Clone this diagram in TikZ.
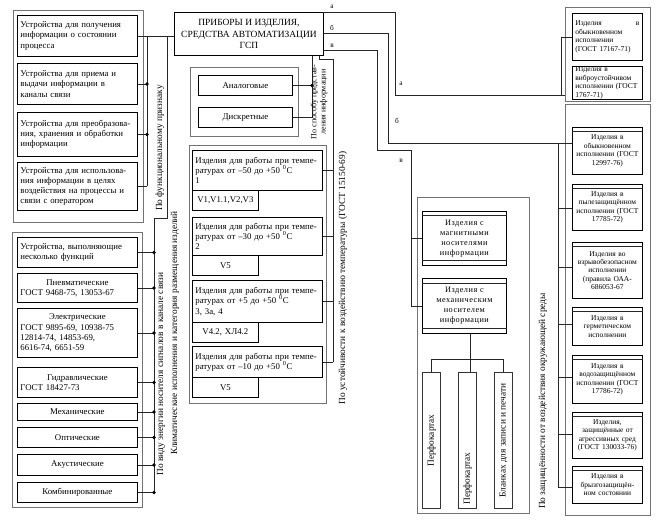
\documentclass[tikz,border=0pt]{standalone}
\usepackage{fontspec}
\setmainfont{Liberation Serif}
\usetikzlibrary{calc}
\newcommand\mkbox[7]{%
 \pgfmathsetmacro\bw{(#4-#2)*0.75}%
 \pgfmathsetmacro\bh{(#5-#3)*0.75}%
 \pgfmathsetmacro\tw{max((#4-#2-6)*0.75,1)}%
 \node[#6, minimum width=\bw pt, minimum height=\bh pt, text width=\tw pt, anchor=north west] (#1) at (#2,#3) {#7};}
\newcommand\ctr[1]{\makebox[\linewidth][c]{#1}}
\begin{document}
\begin{tikzpicture}[x=0.75pt,y=-0.75pt,
  ibox/.style={draw=black, line width=0.6pt, inner xsep=1.5pt, inner ysep=0.5pt,
    font=\fontsize{6.6}{7.6}\selectfont, align=left},
  cbox/.style={ibox, align=center},
  rbox/.style={draw=black, line width=0.6pt, inner xsep=1pt, inner ysep=0.5pt,
    font=\fontsize{5.6}{6.3}\selectfont, align=center},
  mbox/.style={rbox, font=\fontsize{6.2}{7.4}\selectfont\addfontfeatures{LetterSpace=6}},
  obox/.style={draw=black!55, line width=1.1pt, inner sep=0pt},
  pbox/.style={draw=black!80, line width=0.8pt, inner sep=0pt},
  mainbox/.style={draw=black, line width=0.7pt, align=center, inner xsep=0pt, inner ysep=1pt,
    font=\fontsize{7.1}{8.6}\selectfont},
  conn/.style={draw=black!85, line width=0.6pt},
  dot/.style={fill=black},
  rlab/.style={rotate=90, font=\fontsize{7}{8}\selectfont, inner sep=0pt},
  llab/.style={font=\fontsize{5.5}{6}\selectfont, inner sep=0pt}]
\useasboundingbox (0,0) rectangle (662,522);

% main box
\node[mainbox, minimum width=111.75pt, minimum height=32.25pt, anchor=north west] (main) at (174,12)
  {ПРИБОРЫ И ИЗДЕЛИЯ,\\СРЕДСТВА АВТОМАТИЗАЦИИ\\ГСП};

% left upper group
\mkbox{oA}{13}{10}{143}{222}{obox}{}
\mkbox{A1}{17}{15}{137}{56}{ibox}{Устройства для получения\\информации о состоянии\\процесса}
\mkbox{A2}{17}{63}{137}{104}{ibox}{Устройства для приема и\\выдачи информации в\\каналы связи}
\mkbox{A3}{17}{112}{137}{156}{ibox}{Устройства для преобразова-\\ния, хранения и обработки\\информации}
\mkbox{A4}{17}{162}{137}{210}{ibox}{Устройства для использова-\\ния информации в целях\\воздействия на процессы и\\связи с оператором}

\coordinate (jA) at (147,0);
\coordinate (jB) at (167,0);
\coordinate (jC) at (154,0);
\draw[conn] (A1.east) -- (A1.east -| main.west);
\draw[conn] (A1.east -| jA) -- (A4.east -| jA);
\foreach \b in {A2,A3,A4} \draw[conn] (\b.east) -- (\b.east -| jA);
\foreach \b in {A2,A3} \fill[dot] (\b.east -| jA) circle (1.4pt);
\coordinate (kB) at (167,218);
\coordinate (kC) at (154,218);
\draw[conn] (A1.east -| jB) -- (kB) -- (kC);
\node[rlab] (labF) at (160,148) {По функциональному признаку};

% left lower group
\mkbox{oB}{12}{232}{142}{507}{obox}{}
\mkbox{L1}{17}{237}{137}{267}{ibox}{Устройства, выполняющие\\несколько функций}
\mkbox{L2}{17}{273}{137}{302}{ibox}{\ctr{Пневматические}\\ГОСТ 9468-75, 13053-67}
\mkbox{L3}{17}{308}{137}{357}{ibox}{\ctr{Электрические}\\ГОСТ 9895-69, 10938-75\\12814-74, 14853-69,\\6616-74, 6651-59}
\mkbox{L4}{17}{367}{137}{397}{ibox}{\ctr{Гидравлические}\\ГОСТ 18427-73}
\mkbox{L5}{17}{403}{137}{420}{cbox}{Механические}
\mkbox{L6}{17}{427}{137}{447}{cbox}{Оптические}
\mkbox{L7}{17}{454}{137}{475}{cbox}{Акустические}
\mkbox{L8}{17}{482}{137}{502}{cbox}{Комбинированные}
\draw[conn] (kC) -- (L8.east -| jC);
\foreach \b in {L1,L2,L3,L4,L5,L6,L7,L8} {
  \draw[conn] (\b.east) -- (\b.east -| jC);
  \fill[dot] (\b.east -| jC) circle (1.4pt);}
\node[rlab] (labE) at (161,374) {По виду энергии носителя сигналов в канале связи};
\node[rlab] (labK) at (175,333) {Климатические исполнения и категория размещения изделий};

% analog / discrete
\mkbox{oD}{190}{67}{298}{136}{obox}{}
\mkbox{D1}{198}{75}{292}{95}{cbox}{Аналоговые}
\mkbox{D2}{198}{107}{292}{127}{cbox}{Дискретные}
\coordinate (jD) at (312,0);
\draw[conn] (D1.east) -- (D1.east -| jD);
\draw[conn] (D2.east) -- (D2.east -| jD) -- (main.south -| jD);
\fill[dot] (D1.east -| jD) circle (1.4pt);
\node[rlab, font=\fontsize{6}{6.8}\selectfont, align=center] (labS) at (319,102) {По способу представ-\\ления информации};

% temperature group
\mkbox{oT}{189}{145}{326}{403}{obox}{}
\mkbox{T1}{192}{150}{322}{190}{ibox}{Изделия для работы при темпе-\\ратурах от –50 до +50 \textsuperscript{0}C\\1}
\mkbox{C1}{192}{190}{258}{210}{cbox}{V1,V1.1,V2,V3}
\mkbox{T2}{192}{217}{322}{255}{ibox}{Изделия для работы при темпе-\\ратурах от –30 до +50 \textsuperscript{0}C\\2}
\mkbox{C2}{192}{255}{258}{275}{cbox}{V5}
\mkbox{T3}{192}{280}{322}{322}{ibox}{Изделия для работы при темпе-\\ратурах от +5 до +50 \textsuperscript{0}C\\3, 3а, 4}
\mkbox{C3}{192}{322}{258}{342}{cbox}{V4.2, ХЛ4.2}
\mkbox{T4}{192}{346}{322}{377}{ibox}{Изделия для работы при темпе-\\ратурах от –10 до +50 \textsuperscript{0}C}
\mkbox{C4}{192}{377}{258}{397}{cbox}{V5}
\coordinate (jT) at (333,0);
\coordinate (mT) at (319,0);
\coordinate (kT) at (333,59);
\draw[conn] (main.south -| mT) -- (mT |- kT) -- (kT) -- (T4.east -| jT);
\foreach \b in {T1,T2,T3,T4} \draw[conn] (\b.east) -- (\b.east -| jT);
\node[rlab] (labT) at (343,278) {По устойчивости к воздействию температуры (ГОСТ 15150-69)};

% information carriers
\mkbox{oM}{417}{197}{529}{513}{obox}{}
\mkbox{M1}{422}{211}{506}{265}{mbox}{Изделия с\\магнитными\\носителями\\информации}
\mkbox{M2}{422}{278}{506}{333}{mbox}{Изделия с\\механическим\\носителем\\информации}
\draw[conn] ($(M1.north west)+(0,4)$) -- ($(M1.north east)+(0,4)$);
\draw[conn] ($(M1.south west)+(0,-5)$) -- ($(M1.south east)+(0,-5)$);
\draw[conn] ($(M2.north west)+(0,5)$) -- ($(M2.north east)+(0,5)$);
\draw[conn] ($(M2.south west)+(0,-5)$) -- ($(M2.south east)+(0,-5)$);
\mkbox{P1}{422}{372}{440}{508}{pbox}{}
\mkbox{P2}{458}{372}{476}{508}{pbox}{}
\mkbox{P3}{494}{372}{512}{508}{pbox}{}
\node[rlab] at (P1.center) {Перфокартах};
\node[rlab] at ($(P2.center)+(0,38)$) {Перфокартах};
\node[rlab] at (P3.center) {Бланках для записи и печати};
\coordinate (kP) at (470,359);
\draw[conn] (M2.south -| kP) -- (P2.north -| kP);
\draw[conn] (P1.north) -- (P1.north |- kP) -- (P3.north |- kP) -- (P3.north);
\node[rlab] (labZ) at (543,401) {По защищённости от воздействия окружающей среды};

% right top
\mkbox{oR}{565}{7}{650}{101}{obox}{}
\mkbox{R1}{572}{13}{642}{60}{rbox, align=left}{Изделия\hfill в\\обыкновенном\\исполнении\\(ГОСТ 17167-71)}
\mkbox{R2}{572}{66}{642}{98}{rbox, align=left}{Изделия в\\виброустойчивом\\исполнении (ГОСТ\\1767-71)}
\coordinate (jR) at (561,0);
\draw[conn] (R1.west) -- (R1.west -| jR) -- (jR |- 0,95) -- (oR.west |- 0,95);

% right lower
\mkbox{oS}{565}{104}{650}{515}{obox}{}
\mkbox{S1}{572}{127}{642}{174}{rbox}{Изделия в\\обыкновенном\\исполнении (ГОСТ\\12997-76)}
\mkbox{S2}{572}{184}{642}{230}{rbox}{Изделия в\\пылезащищённом\\исполнении (ГОСТ\\17785-72)}
\mkbox{S3}{572}{242}{642}{298}{rbox}{Изделия во\\взрывобезопасном\\исполнении\\(правила ОАА-\\686053-67}
\mkbox{S4}{572}{307}{642}{345}{rbox}{Изделия в\\герметическом\\исполнении}
\mkbox{S5}{572}{355}{642}{403}{rbox}{Изделия в\\водозащищённом\\исполнении (ГОСТ\\17786-72)}
\mkbox{S6}{572}{412}{642}{458}{rbox}{Изделия,\\защищённые от\\агрессивных сред\\(ГОСТ 130033-76)}
\mkbox{S7}{572}{466}{642}{503}{rbox}{Изделия в\\брызгозащищён-\\ном состоянии}
\foreach \b in {S1,S2,S3,S4,S5,S6,S7}
  \draw[conn] ($(\b.north west)+(0,4)$) -- ($(\b.north east)+(0,4)$);
\coordinate (jS) at (558,0);
\draw[conn] (jS |- 0,143) -- (jS |- 0,487);
\foreach \y/\b in {143/S1,208/S2,267/S3,324/S4,377/S5,434/S6,487/S7}
  \draw[conn] (jS |- 0,\y) -- (\b.west |- 0,\y);

% lines a, b, v from main box
\coordinate (a1) at (323,12);
\coordinate (b1) at (323,33);
\coordinate (v1) at (323,50);
\draw[conn] (a1) -- (395,12) -- (395,95) -- (jR |- 0,95);
\draw[conn] (b1) -- (388,33) -- (388,143) -- (jS |- 0,143);
\draw[conn] (v1) -- (377,50) -- (377,150) -- (411,150) -- (M2.west -| 411,0);
\draw[conn] (M1.west) -- (M1.west -| 411,0);
\draw[conn] (M2.west) -- (M2.west -| 411,0);
\node[llab] at (332,7) {а};
\node[llab] at (332,28) {б};
\node[llab] at (332,46) {в};
\node[llab] at (401,84) {а};
\node[llab] at (397,121) {б};
\node[llab] at (401,161) {в};
\end{tikzpicture}
\end{document}
